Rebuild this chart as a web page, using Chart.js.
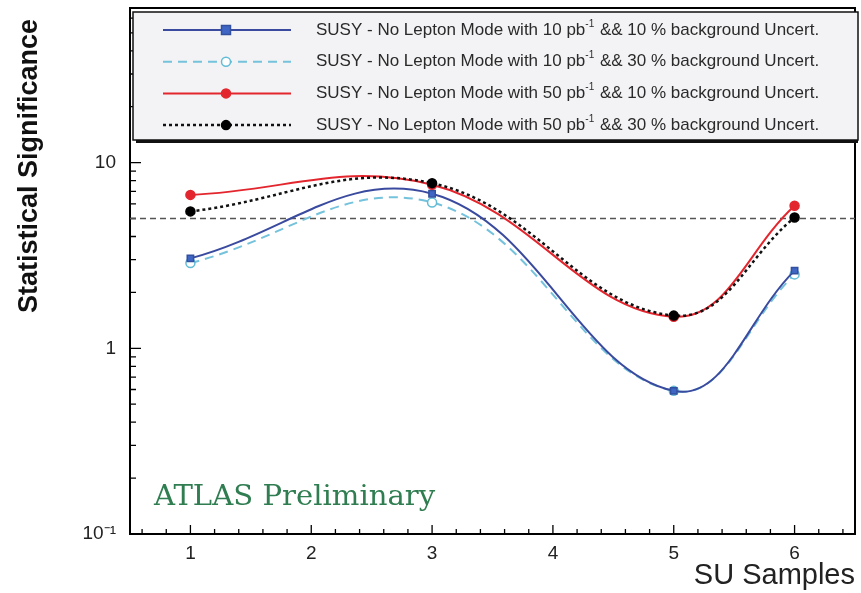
<!DOCTYPE html>
<html lang="en">
<head>
<meta charset="UTF-8">
<title>SUSY No Lepton Mode - Statistical Significance</title>
<script src="https://cdn.jsdelivr.net/npm/chart.js"></script>
<style>
  body { margin: 0; background: #fff; }
  canvas { display: block; }
</style>
</head>
<body>
<canvas id="sigChart" width="861" height="593"></canvas>
<script>
  // SU sample points on the x axis
  const suSamples = [1, 3, 5, 6];

  // significance per sample
  const sig10pb10 = [3.05, 6.8, 0.59, 2.62];
  const sig10pb30 = [2.88, 6.1, 0.59, 2.5];
  const sig50pb10 = [6.7, 7.6, 1.48, 5.85];
  const sig50pb30 = [5.46, 7.75, 1.5, 5.06];

  // legend pieces
  const lumis = [10, 10, 50, 50];
  const bkgUncert = [10, 30, 10, 30];

  const discoveryLevel = 5;
  const xRange = [0.5, 6.5];
  const yRange = [0.1, 68];
  const yTickLabels = { '0.1': '10⁻¹', '1': '1', '10': '10' };

  const styles = [
    { line: '#3a4b9f', point: '#3f66c4', pointBorder: '#33509f', shape: 'rect', dash: [], width: 2 },
    { line: '#74c2dc', point: '#ffffff', pointBorder: '#62bcd6', shape: 'circle', dash: [9, 6], width: 2 },
    { line: '#e3262e', point: '#e3262e', pointBorder: '#e3262e', shape: 'circle', dash: [], width: 2 },
    { line: '#111111', point: '#000000', pointBorder: '#000000', shape: 'circle', dash: [3, 3], width: 2.5 }
  ];
  const allSeries = [sig10pb10, sig10pb30, sig50pb10, sig50pb30];
  const drawOrder = [3, 4, 2, 1];

  const datasets = allSeries.map((vals, i) => ({
    label: `SUSY - No Lepton Mode with ${lumis[i]} pb-1 && ${bkgUncert[i]} % background Uncert.`,
    data: suSamples.map((x, j) => ({ x: x, y: vals[j] })),
    borderColor: styles[i].line,
    borderWidth: styles[i].width,
    borderDash: styles[i].dash,
    backgroundColor: styles[i].point,
    pointBackgroundColor: styles[i].point,
    pointBorderColor: styles[i].pointBorder,
    pointBorderWidth: 1.5,
    pointStyle: styles[i].shape,
    pointRadius: 4.5,
    tension: 0.4,
    fill: false,
    order: drawOrder[i]
  }));

  datasets.push({
    label: 'discovery',
    data: xRange.map(x => ({ x: x, y: discoveryLevel })),
    borderColor: '#555555',
    borderWidth: 1.5,
    borderDash: [6, 4],
    pointRadius: 0,
    fill: false,
    order: 9
  });

  const isPow10 = v => Math.abs(Math.log10(v) - Math.round(Math.log10(v))) < 1e-9;

  const framePlugin = {
    id: 'framePlugin',
    beforeDatasetsDraw(chart) {
      const { ctx, chartArea: a, scales: { x, y } } = chart;
      ctx.save();
      ctx.strokeStyle = '#000';
      ctx.lineWidth = 1.3;
      ctx.beginPath();
      x.ticks.forEach(t => {
        const px = x.getPixelForValue(t.value);
        const len = Math.abs(t.value - Math.round(t.value)) < 1e-6 ? 9 : 5;
        ctx.moveTo(px, a.bottom);
        ctx.lineTo(px, a.bottom - len);
      });
      y.ticks.forEach(t => {
        const py = y.getPixelForValue(t.value);
        const len = isPow10(t.value) ? 11 : 6;
        ctx.moveTo(a.left, py);
        ctx.lineTo(a.left + len, py);
      });
      ctx.stroke();
      ctx.lineWidth = 2;
      ctx.strokeRect(a.left, a.top, a.right - a.left, a.bottom - a.top);
      ctx.restore();
    },
    afterDraw(chart) {
      const { ctx } = chart;
      ctx.save();

      // legend box with shadow
      const bx = 133, by = 12, bw = 725, bh = 128;
      ctx.fillStyle = '#111';
      ctx.fillRect(bx + 3, by + bh, bw - 3, 3);
      ctx.fillStyle = '#f3f3f5';
      ctx.fillRect(bx, by, bw, bh);
      ctx.strokeStyle = '#111';
      ctx.lineWidth = 1.5;
      ctx.strokeRect(bx, by, bw, bh);

      ctx.textBaseline = 'middle';
      allSeries.forEach((vals, i) => {
        const s = styles[i];
        const ry = 30 + i * 31.7;
        ctx.strokeStyle = s.line;
        ctx.lineWidth = s.width;
        ctx.setLineDash(s.dash);
        ctx.beginPath();
        ctx.moveTo(163, ry);
        ctx.lineTo(291, ry);
        ctx.stroke();
        ctx.setLineDash([]);
        ctx.fillStyle = s.point;
        ctx.strokeStyle = s.pointBorder;
        ctx.lineWidth = 1.5;
        ctx.beginPath();
        if (s.shape === 'rect') {
          ctx.rect(226 - 4.5, ry - 4.5, 9, 9);
        } else {
          ctx.arc(226, ry, 4.5, 0, Math.PI * 2);
        }
        ctx.fill();
        ctx.stroke();

        // label text with superscript -1
        ctx.fillStyle = '#2a2a2a';
        let tx = 316;
        const p1 = `SUSY - No Lepton Mode with ${lumis[i]} pb`;
        ctx.font = '17px "Liberation Sans", Arial, sans-serif';
        ctx.fillText(p1, tx, ry);
        tx += ctx.measureText(p1).width;
        ctx.font = '10px "Liberation Sans", Arial, sans-serif';
        ctx.fillText('-1', tx, ry - 6);
        tx += ctx.measureText('-1').width + 1;
        ctx.font = '17px "Liberation Sans", Arial, sans-serif';
        ctx.fillText(` && ${bkgUncert[i]} % background Uncert.`, tx, ry);
      });

      // y axis title
      ctx.fillStyle = '#111';
      ctx.font = 'bold 27px "Liberation Sans", Arial, sans-serif';
      ctx.textAlign = 'center';
      ctx.textBaseline = 'alphabetic';
      ctx.translate(37, 166);
      ctx.rotate(-Math.PI / 2);
      ctx.fillText('Statistical Significance', 0, 0);
      ctx.setTransform(1, 0, 0, 1, 0, 0);

      // experiment label
      ctx.fillStyle = '#2f7d50';
      ctx.font = '28px "DejaVu Serif", serif';
      ctx.textAlign = 'left';
      ctx.translate(154, 505);
      ctx.scale(1.04, 1);
      ctx.fillText('ATLAS Preliminary', 0, 0);
      ctx.restore();
    }
  };

  const noPad = scale => {
    scale.paddingTop = 0;
    scale.paddingBottom = 0;
    scale.paddingLeft = 0;
    scale.paddingRight = 0;
  };

  new Chart(document.getElementById('sigChart'), {
    type: 'line',
    data: { datasets: datasets },
    options: {
      responsive: false,
      animation: false,
      devicePixelRatio: 1,
      layout: { padding: { top: 8, right: 3, left: 0, bottom: 0 } },
      plugins: { legend: { display: false }, tooltip: { enabled: false } },
      scales: {
        x: {
          type: 'linear',
          min: xRange[0],
          max: xRange[1],
          grid: { display: false, drawTicks: false },
          border: { display: false },
          afterBuildTicks(scale) {
            const ticks = [];
            for (let v = 0.6; v < xRange[1]; v += 0.2) ticks.push({ value: Math.round(v * 10) / 10 });
            scale.ticks = ticks;
          },
          afterFit(scale) { scale.height = 59; noPad(scale); },
          ticks: {
            autoSkip: false,
            maxRotation: 0,
            padding: 8,
            color: '#222',
            font: { family: '"Liberation Sans", Arial, sans-serif', size: 19 },
            callback: v => (Math.abs(v - Math.round(v)) < 1e-6 ? String(Math.round(v)) : '')
          },
          title: {
            display: true,
            text: 'SU Samples',
            align: 'end',
            color: '#222',
            padding: { top: 0, bottom: 0 },
            font: { family: '"Liberation Sans", Arial, sans-serif', size: 29 }
          }
        },
        y: {
          type: 'logarithmic',
          min: yRange[0],
          max: yRange[1],
          bounds: 'data',
          grid: { display: false, drawTicks: false },
          border: { display: false },
          afterBuildTicks(scale) {
            const ticks = [];
            for (let e = -1; e <= 1; e++) {
              for (let m = 1; m <= 9; m++) {
                const v = parseFloat((m * Math.pow(10, e)).toPrecision(3));
                if (v >= yRange[0] && v <= yRange[1]) ticks.push({ value: v });
              }
            }
            scale.ticks = ticks;
          },
          afterFit(scale) { scale.width = 130; noPad(scale); },
          ticks: {
            autoSkip: false,
            padding: 14,
            color: '#222',
            font: { family: '"Liberation Sans", Arial, sans-serif', size: 19 },
            callback: v => yTickLabels[String(v)] || ''
          }
        }
      }
    },
    plugins: [framePlugin]
  });
</script>
</body>
</html>
